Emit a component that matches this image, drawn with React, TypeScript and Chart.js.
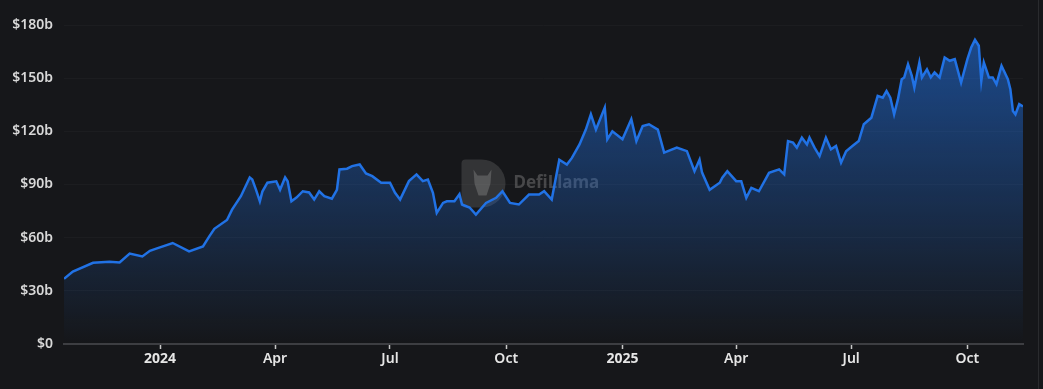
import React, { useEffect, useRef } from "react";
import { Chart, registerables } from "chart.js";

Chart.register(...registerables);

// Day offsets relative to 2024-01-01
const days = [
  -76, -69, -53, -40, -32, -24, -14, -8, -3, 10, 23, 34, 39, 43, 53, 57, 64, 71, 73, 76,
  79, 81, 85, 92, 95, 99, 101, 104, 108, 113, 118, 122, 126, 130, 136, 140, 142, 148, 152, 158,
  163, 168, 175, 182, 186, 190, 197, 203, 208, 212, 216, 219, 224, 227, 233, 237, 239, 245, 250, 258,
  266, 271, 277, 284, 292, 300, 304, 310, 316, 322, 326, 332, 337, 341, 345, 352, 354, 358, 366, 373,
  377, 382, 387, 394, 399, 409, 417, 423, 427, 429, 435, 443, 445, 449, 456, 460, 464, 468, 474, 482,
  490, 494, 497, 501, 504, 508, 512, 514, 518, 522, 527, 531, 535, 539, 543, 548, 553, 557, 563, 568,
  572, 575, 578, 581, 584, 587, 589, 592, 595, 597, 601, 603, 607, 610, 613, 617, 621, 625, 629, 634,
  639, 642, 645, 648, 650, 652, 656, 659, 662, 666, 671, 673, 675, 677, 680, 683,
];

// TVL in billions of USD
const tvl = [
  36.8, 40.9, 45.8, 46.4, 46.0, 51.0, 49.4, 52.6, 53.8, 57.0, 52.3, 55.0, 60.7, 65.0, 70.0, 75.8, 83.4, 94.0, 92.8, 87.0,
  80.5, 86.0, 91.0, 91.8, 87.0, 94.0, 91.8, 80.5, 82.6, 86.2, 85.5, 81.5, 86.2, 83.4, 82.0, 87.0, 98.5, 98.9, 100.4, 101.3,
  96.2, 94.7, 91.0, 91.0, 85.3, 81.5, 91.9, 95.7, 91.9, 92.8, 85.3, 74.0, 79.6, 80.5, 80.5, 84.5, 78.7, 77.0, 73.0, 79.6,
  82.5, 86.2, 79.6, 78.7, 84.3, 84.3, 86.2, 81.5, 104.0, 101.3, 105.0, 112.6, 121.0, 129.6, 121.0, 133.4, 115.5, 120.0, 115.5, 126.8,
  114.5, 123.0, 124.0, 121.0, 108.0, 110.8, 108.8, 97.5, 104.0, 96.7, 87.0, 91.0, 93.8, 97.5, 91.9, 91.9, 82.5, 88.1, 86.2, 96.6,
  98.5, 95.7, 114.5, 113.6, 110.8, 116.4, 112.6, 116.4, 110.8, 106.0, 116.4, 109.8, 111.7, 102.3, 108.8, 111.7, 114.5, 124.0, 127.7, 140.0,
  139.0, 142.8, 139.0, 129.6, 138.0, 149.4, 150.4, 157.9, 151.3, 144.7, 158.9, 150.4, 155.0, 150.4, 153.2, 150.4, 161.7, 159.8, 160.7, 147.5,
  160.7, 167.3, 171.6, 168.3, 148.4, 158.9, 150.4, 150.4, 146.6, 157.0, 149.4, 143.8, 131.5, 129.6, 135.3, 134.0,
];

const tickDays = [0, 91, 182, 274, 366, 456, 547, 639];
const tickLabels = ["2024", "Apr", "Jul", "Oct", "2025", "Apr", "Jul", "Oct"];
const yearLabels = ["2024", "2025"];
const yTicks = [0, 30, 60, 90, 120, 150, 180];

const BG = "#16171a";

const watermark = {
  id: "watermark",
  beforeDatasetsDraw(chart: any) {
    const ctx = chart.ctx;
    const cx = (chart.chartArea.left + chart.chartArea.right) / 2;
    const cy = (chart.chartArea.top + chart.chartArea.bottom) / 2;
    ctx.save();
    const lx = cx - 82;
    const top = cy - 25;
    const h = 48;
    ctx.fillStyle = "rgba(120,120,120,0.3)";
    ctx.beginPath();
    ctx.moveTo(lx + 4, top);
    ctx.lineTo(lx + 20, top);
    ctx.arc(lx + 20, top + h / 2, h / 2, -Math.PI / 2, Math.PI / 2);
    ctx.lineTo(lx + 4, top + h);
    ctx.quadraticCurveTo(lx, top + h, lx, top + h - 4);
    ctx.lineTo(lx, top + 4);
    ctx.quadraticCurveTo(lx, top, lx + 4, top);
    ctx.fill();
    ctx.fillStyle = "rgba(170,170,170,0.3)";
    ctx.beginPath();
    ctx.moveTo(lx + 12, top + 10);
    ctx.lineTo(lx + 16, top + 16);
    ctx.lineTo(lx + 26, top + 16);
    ctx.lineTo(lx + 30, top + 10);
    ctx.lineTo(lx + 29, top + 24);
    ctx.lineTo(lx + 25, top + 36);
    ctx.lineTo(lx + 17, top + 36);
    ctx.lineTo(lx + 13, top + 24);
    ctx.closePath();
    ctx.fill();
    ctx.fillStyle = "rgba(130,130,130,0.45)";
    ctx.font = "bold 17px 'Noto Sans', sans-serif";
    ctx.textBaseline = "middle";
    ctx.fillText("DefiLlama", lx + 52, cy - 1);
    ctx.restore();
  },
};

export default function App() {
  const ref = useRef<HTMLCanvasElement | null>(null);

  useEffect(() => {
    document.body.style.margin = "0";
    document.body.style.background = BG;
    const canvas = ref.current;
    if (!canvas) return;
    const points = days.map((d, i) => ({ x: d, y: tvl[i] }));
    const chart = new Chart(canvas, {
      type: "line",
      data: {
        datasets: [
          {
            data: points,
            borderColor: "#2172e5",
            borderWidth: 2.5,
            pointRadius: 0,
            tension: 0,
            fill: true,
            backgroundColor: (c: any) => {
              const area = c.chart.chartArea;
              if (!area) return "rgba(33,114,229,0.3)";
              const g = c.chart.ctx.createLinearGradient(0, area.top + 20, 0, area.bottom);
              g.addColorStop(0, "rgba(33,114,229,0.55)");
              g.addColorStop(1, "rgba(33,114,229,0.0)");
              return g;
            },
          },
        ],
      },
      options: {
        animation: false,
        responsive: false,
        maintainAspectRatio: false,
        layout: { padding: { left: 0, right: 20, top: 25, bottom: 0 } },
        plugins: { legend: { display: false }, tooltip: { enabled: false } },
        scales: {
          x: {
            type: "linear",
            min: days[0],
            max: days[days.length - 1],
            afterBuildTicks: (s: any) => {
              s.ticks = tickDays.map((v) => ({ value: v }));
            },
            afterFit: (s: any) => {
              s.height = 45;
            },
            grid: {
              drawOnChartArea: false,
              drawTicks: true,
              tickLength: 5,
              tickWidth: 1.5,
              color: "#c8c8c8",
            },
            border: { display: true, color: "#3d3e42", width: 2 },
            ticks: {
              autoSkip: false,
              maxRotation: 0,
              padding: 2,
              color: "#e6e6e6",
              callback: (v: any) => {
                const i = tickDays.indexOf(Number(v));
                return i >= 0 ? tickLabels[i] : "";
              },
              font: (c: any) => ({
                family: "'Noto Sans', sans-serif",
                size: 14,
                weight: c.tick && yearLabels.includes(c.tick.label) ? "bold" : "600",
              }),
            },
          },
          y: {
            min: 0,
            max: 180,
            afterBuildTicks: (s: any) => {
              s.ticks = yTicks.map((v) => ({ value: v }));
            },
            afterFit: (s: any) => {
              s.width = 64;
            },
            grid: { color: "#1c1d20", drawTicks: false, lineWidth: 1 },
            border: { display: false },
            ticks: {
              padding: 11,
              color: "#d8d8d8",
              font: { family: "'Noto Sans', sans-serif", size: 14, weight: "600" },
              callback: (v: any) => (Number(v) === 0 ? "$0" : `$${v}b`),
            },
          },
        },
      },
      plugins: [watermark],
    } as any);
    return () => chart.destroy();
  }, []);

  return (
    <div style={{ position: "relative", width: 1043, height: 389, background: BG }}>
      <canvas ref={ref} width={1043} height={389} style={{ display: "block" }} />
      <div
        style={{
          position: "absolute",
          left: 1038,
          top: 0,
          width: 1,
          height: 389,
          background: "#2a2b2e",
        }}
      />
    </div>
  );
}
